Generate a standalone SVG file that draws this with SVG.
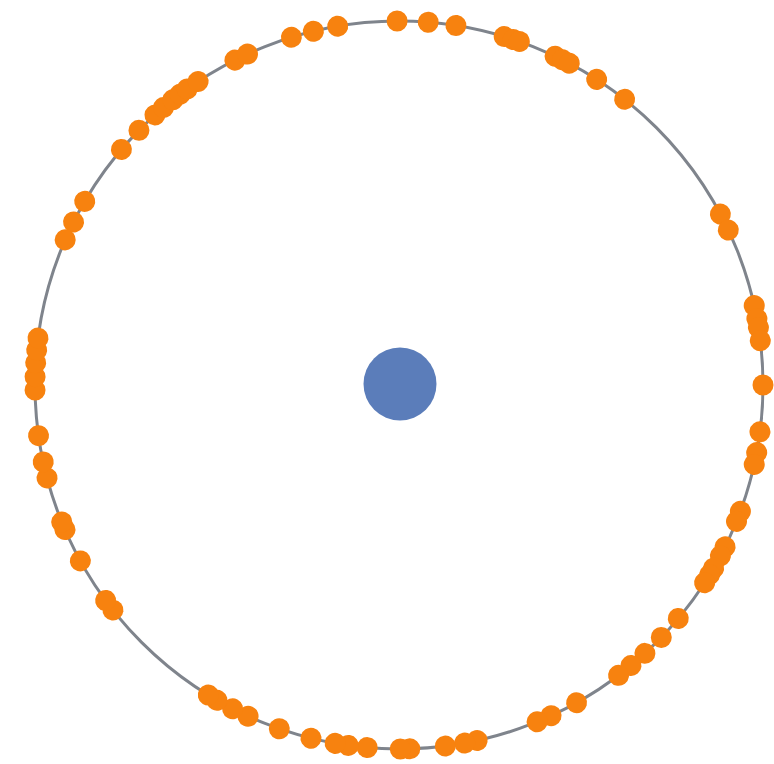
<svg xmlns="http://www.w3.org/2000/svg" xmlns:xlink="http://www.w3.org/1999/xlink" width="774" height="764" viewBox="0 0 774 764">
<style>
.ring{fill:none;stroke:#7f848c;stroke-width:3}
.pt{fill:#F7820F}
.center{fill:#5B7DBA}
</style>
<defs>
<circle id="d" class="pt" cx="399" cy="21" r="10.5"/>
</defs>
<rect width="774" height="764" fill="#ffffff"/>
<g id="ring"><circle class="ring" cx="399" cy="385" r="364"/></g>
<g id="points">
<use href="#d" transform="rotate(-0.3 399 385)"/>
<use href="#d" transform="rotate(4.6 399 385)"/>
<use href="#d" transform="rotate(9.0 399 385)"/>
<use href="#d" transform="rotate(16.8 399 385)"/>
<use href="#d" transform="rotate(18.3 399 385)"/>
<use href="#d" transform="rotate(19.3 399 385)"/>
<use href="#d" transform="rotate(25.4 399 385)"/>
<use href="#d" transform="rotate(26.7 399 385)"/>
<use href="#d" transform="rotate(27.9 399 385)"/>
<use href="#d" transform="rotate(32.9 399 385)"/>
<use href="#d" transform="rotate(38.3 399 385)"/>
<use href="#d" transform="rotate(62.0 399 385)"/>
<use href="#d" transform="rotate(64.8 399 385)"/>
<use href="#d" transform="rotate(77.4 399 385)"/>
<use href="#d" transform="rotate(79.5 399 385)"/>
<use href="#d" transform="rotate(80.9 399 385)"/>
<use href="#d" transform="rotate(83.0 399 385)"/>
<use href="#d" transform="rotate(90.0 399 385)"/>
<use href="#d" transform="rotate(97.4 399 385)"/>
<use href="#d" transform="rotate(100.7 399 385)"/>
<use href="#d" transform="rotate(102.6 399 385)"/>
<use href="#d" transform="rotate(110.3 399 385)"/>
<use href="#d" transform="rotate(112.0 399 385)"/>
<use href="#d" transform="rotate(116.4 399 385)"/>
<use href="#d" transform="rotate(118.0 399 385)"/>
<use href="#d" transform="rotate(120.2 399 385)"/>
<use href="#d" transform="rotate(121.4 399 385)"/>
<use href="#d" transform="rotate(122.9 399 385)"/>
<use href="#d" transform="rotate(129.9 399 385)"/>
<use href="#d" transform="rotate(133.9 399 385)"/>
<use href="#d" transform="rotate(137.5 399 385)"/>
<use href="#d" transform="rotate(140.4 399 385)"/>
<use href="#d" transform="rotate(142.9 399 385)"/>
<use href="#d" transform="rotate(150.8 399 385)"/>
<use href="#d" transform="rotate(155.3 399 385)"/>
<use href="#d" transform="rotate(157.7 399 385)"/>
<use href="#d" transform="rotate(167.6 399 385)"/>
<use href="#d" transform="rotate(169.6 399 385)"/>
<use href="#d" transform="rotate(172.7 399 385)"/>
<use href="#d" transform="rotate(178.3 399 385)"/>
<use href="#d" transform="rotate(179.8 399 385)"/>
<use href="#d" transform="rotate(185.0 399 385)"/>
<use href="#d" transform="rotate(188.0 399 385)"/>
<use href="#d" transform="rotate(190.1 399 385)"/>
<use href="#d" transform="rotate(194.0 399 385)"/>
<use href="#d" transform="rotate(199.2 399 385)"/>
<use href="#d" transform="rotate(204.5 399 385)"/>
<use href="#d" transform="rotate(207.2 399 385)"/>
<use href="#d" transform="rotate(210.0 399 385)"/>
<use href="#d" transform="rotate(211.6 399 385)"/>
<use href="#d" transform="rotate(231.8 399 385)"/>
<use href="#d" transform="rotate(233.7 399 385)"/>
<use href="#d" transform="rotate(241.1 399 385)"/>
<use href="#d" transform="rotate(246.6 399 385)"/>
<use href="#d" transform="rotate(247.9 399 385)"/>
<use href="#d" transform="rotate(255.2 399 385)"/>
<use href="#d" transform="rotate(257.8 399 385)"/>
<use href="#d" transform="rotate(262.0 399 385)"/>
<use href="#d" transform="rotate(269.2 399 385)"/>
<use href="#d" transform="rotate(271.3 399 385)"/>
<use href="#d" transform="rotate(273.5 399 385)"/>
<use href="#d" transform="rotate(275.5 399 385)"/>
<use href="#d" transform="rotate(277.4 399 385)"/>
<use href="#d" transform="rotate(293.5 399 385)"/>
<use href="#d" transform="rotate(296.6 399 385)"/>
<use href="#d" transform="rotate(300.3 399 385)"/>
<use href="#d" transform="rotate(310.3 399 385)"/>
<use href="#d" transform="rotate(314.4 399 385)"/>
<use href="#d" transform="rotate(317.9 399 385)"/>
<use href="#d" transform="rotate(319.7 399 385)"/>
<use href="#d" transform="rotate(321.6 399 385)"/>
<use href="#d" transform="rotate(323.0 399 385)"/>
<use href="#d" transform="rotate(324.4 399 385)"/>
<use href="#d" transform="rotate(326.5 399 385)"/>
<use href="#d" transform="rotate(333.2 399 385)"/>
<use href="#d" transform="rotate(335.4 399 385)"/>
<use href="#d" transform="rotate(342.8 399 385)"/>
<use href="#d" transform="rotate(346.4 399 385)"/>
<use href="#d" transform="rotate(350.3 399 385)"/>
</g>
<g id="center"><circle class="center" cx="400" cy="384" r="36.5"/></g>
</svg>
